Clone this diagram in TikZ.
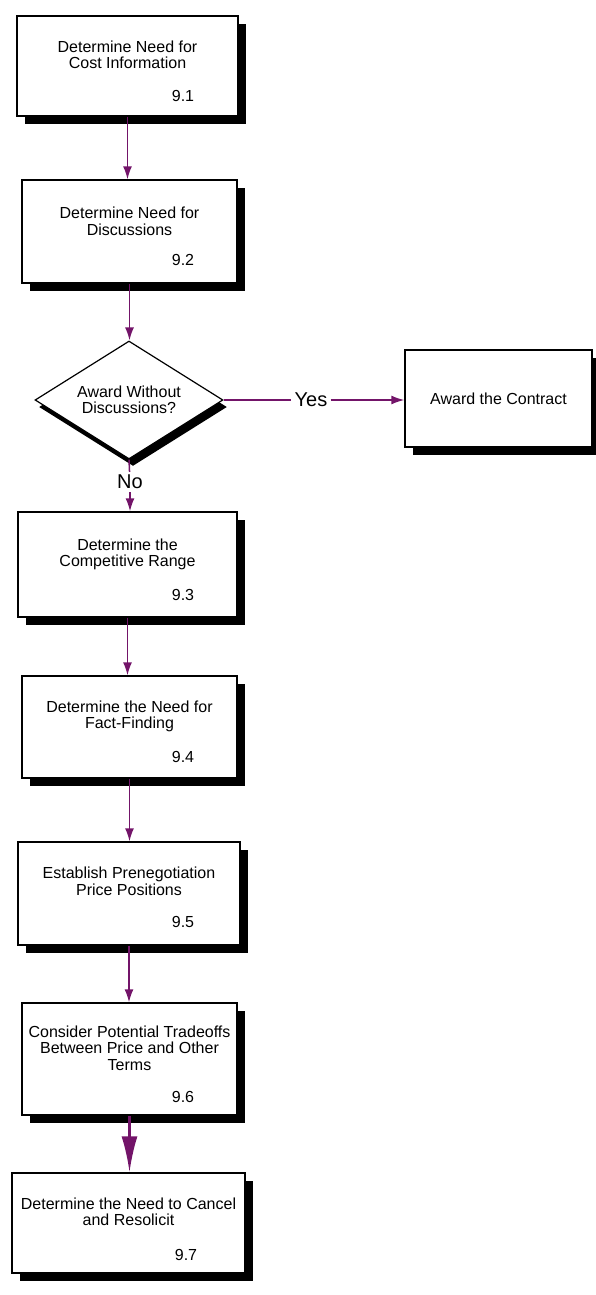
\documentclass[tikz,border=0pt]{standalone}
\usepackage{fontspec}
\setmainfont{Liberation Sans}
\usetikzlibrary{shapes.geometric,arrows.meta}
\definecolor{flowpurple}{RGB}{115,20,105}

\begin{document}
\begin{tikzpicture}[x=1pt, y=-1pt,
    boxfont/.style={font=\fontsize{16}{16.5}\selectfont},
    shadowed/.style={preaction={fill=black, transform canvas={xshift=8pt, yshift=-8pt}}},
    stepbox/.style={draw, line width=1.4pt, fill=white, shadowed, inner sep=0pt, boxfont},
    steptext/.style={align=center, inner sep=0pt, boxfont},
    stepnum/.style={inner sep=0pt, boxfont},
    decision/.style={diamond, aspect=1.6, draw, line width=1.2pt, fill=white,
        preaction={fill=black, transform canvas={xshift=4pt, yshift=-7pt}},
        minimum width=188pt, minimum height=118pt, inner sep=0pt, align=center, boxfont},
    answer/.style={inner sep=3pt, font=\fontsize{20}{22}\selectfont},
    flowline/.style={draw=flowpurple, line width=1.5pt},
    flow/.style={flowline, -{Latex[length=13pt, width=9pt]}}]
    \useasboundingbox (0,0) rectangle (595,1295);

    % process boxes
    \node[stepbox, minimum width=221pt, minimum height=100pt] (b1) at (127.5,66) {};
    \node[steptext] (t1) at ([yshift=11pt]b1.center) {Determine Need for\\Cost Information};
    \node[stepnum] (n1) at (183,96) {9.1};

    \node[stepbox, minimum width=215pt, minimum height=103pt] (b2) at (129.5,231.5) {};
    \node[steptext] (t2) at ([yshift=10pt]b2.center) {Determine Need for\\Discussions};
    \node[stepnum] (n2) at (183,260) {9.2};

    \node[decision] (ask) at (129,400) {Award Without\\Discussions?};
    \node[stepbox, minimum width=187pt, minimum height=97pt] (award) at (498.5,398.5) {Award the Contract};
    \node[answer] (yes) at (311,400) {Yes};
    \node[answer] (no) at (130,482) {No};

    \node[stepbox, minimum width=219pt, minimum height=105pt] (b3) at (127.5,564.5) {};
    \node[steptext] (t3) at ([yshift=10pt]b3.center) {Determine the\\Competitive Range};
    \node[stepnum] (n3) at (183,595) {9.3};

    \node[stepbox, minimum width=215pt, minimum height=102pt] (b4) at (129.5,727) {};
    \node[steptext] (t4) at ([yshift=10.5pt]b4.center) {Determine the Need for\\Fact-Finding};
    \node[stepnum] (n4) at (183,757) {9.4};

    \node[stepbox, minimum width=222pt, minimum height=103pt] (b5) at (129,893.5) {};
    \node[steptext] (t5) at ([yshift=12pt]b5.center) {Establish Prenegotiation\\Price Positions};
    \node[stepnum] (n5) at (183,922) {9.5};

    \node[stepbox, minimum width=215pt, minimum height=112pt] (b6) at (129.5,1059) {};
    \node[steptext] (t6) at ([yshift=11pt]b6.center) {Consider Potential Tradeoffs\\Between Price and Other\\Terms};
    \node[stepnum] (n6) at (183,1097) {9.6};

    \node[stepbox, minimum width=233pt, minimum height=100pt] (b7) at (128.5,1223) {};
    \node[steptext] (t7) at ([yshift=11pt]b7.center) {Determine the Need to Cancel\\and Resolicit};
    \node[stepnum] (n7) at (186,1255) {9.7};

    % connectors
    \draw[flow] (b1.south) -- (b1.south |- b2.north);
    \draw[flow] (b2.south) -- (b2.south |- ask.north);
    \draw[flowline] (ask.east) -- (yes);
    \draw[flow] (yes) -- (yes -| award.west);
    \draw[flowline] (ask.south) -- (no);
    \draw[flow] (no) -- (no |- b3.north);
    \draw[flow] (b3.south) -- (b3.south |- b4.north);
    \draw[flow] (b4.south) -- (b4.south |- b5.north);
    \draw[flow] (b5.south) -- (b5.south |- b6.north);
    \draw[flowline, line width=2.5pt, -{Latex[length=36pt, width=16pt]}] (b6.south) -- (b6.south |- b7.north);
\end{tikzpicture}
\end{document}
